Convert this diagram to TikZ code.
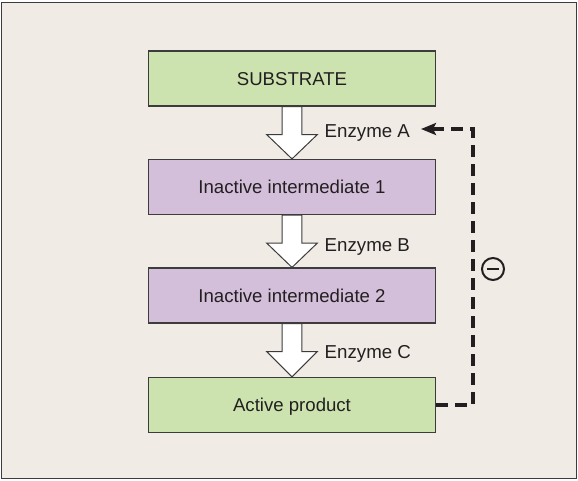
\documentclass[tikz,border=0pt]{standalone}
\usepackage{fontspec}
\setmainfont{Liberation Sans}
\usetikzlibrary{arrows.meta,calc}

\definecolor{panelbg}{HTML}{F0ECE5}
\definecolor{boxgreen}{HTML}{CCE3AF}
\definecolor{boxpurple}{HTML}{D4BFDA}
\definecolor{edgegray}{HTML}{3C3C3C}
\definecolor{inkdark}{HTML}{231F20}

\tikzset{
  stagebox/.style={draw=edgegray, line width=1.2pt, minimum width=287pt,
    minimum height=55pt, inner sep=0pt, text=inkdark,
    font=\fontsize{18.6}{22}\selectfont, text height=13.3pt, text depth=0pt},
  greenbox/.style={stagebox, fill=boxgreen},
  purplebox/.style={stagebox, fill=boxpurple},
  enzlabel/.style={anchor=base west, inner sep=0pt, text=inkdark,
    font=\fontsize{18.7}{22}\selectfont},
  blockarrow/.style={draw=edgegray, fill=white, line width=1pt, line join=miter},
  feedback/.style={draw=inkdark, line width=3.4pt, dash pattern=on 12pt off 7pt,
    -{Stealth[length=15pt,width=12pt,inset=3pt]}},
  inhibit/.style={circle, draw=inkdark, line width=2pt, minimum size=22pt, inner sep=0pt}
}

% block arrow from the bottom of one box down to the top of the next
\newcommand{\stagearrow}[2]{%
  \draw[blockarrow]
    ($(#1.south)+(-9.8,0)$) -- ++(0,28) -- ++(-15.5,0) -- (#2.north)
    -- ($(#1.south)+(25.3,28)$) -- ++(-15.5,0) -- ($(#1.south)+(9.8,0)$) -- cycle;}

\begin{document}
\begin{tikzpicture}[x=1pt,y=-1pt]
  \useasboundingbox (0,0) rectangle (578,480);
  \fill[white] (0,0) rectangle (578,480);
  \draw[draw=edgegray, fill=panelbg, line width=1.4pt] (1.5,2.5) rectangle (576.5,478.5);

  % pathway stages
  \node[greenbox]  (sub)  at (292,78.5) {SUBSTRATE};
  \node[purplebox] (int1) at (292,187)  {Inactive intermediate 1};
  \node[purplebox] (int2) at (292,295.5) {Inactive intermediate 2};
  \node[greenbox]  (prod) at (292,405)  {Active product};

  % enzymatic steps
  \stagearrow{sub}{int1}
  \stagearrow{int1}{int2}
  \stagearrow{int2}{prod}

  \node[enzlabel] (enzA) at (324.5,137.3) {Enzyme A};
  \node[enzlabel] (enzB) at (324.5,251.7) {Enzyme B};
  \node[enzlabel] (enzC) at (324.5,358.3) {Enzyme C};

  % feedback inhibition loop
  \coordinate (fbtip) at (421,129);
  \draw[feedback] (prod.east) -- (473,405) -- (473,129) -- (fbtip);

  \node[inhibit] (minus) at (493,269) {};
  \draw[inkdark, line width=2.6pt] ($(minus.center)+(-6,0)$) -- ($(minus.center)+(6,0)$);
\end{tikzpicture}
\end{document}
